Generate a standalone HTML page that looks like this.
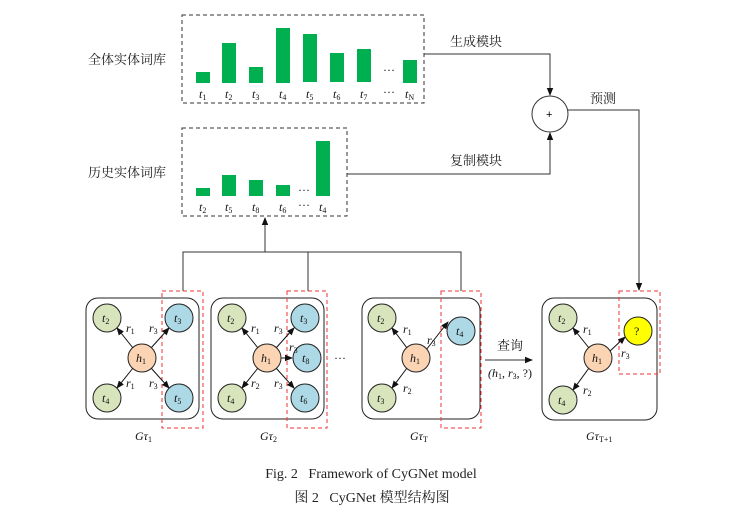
<!DOCTYPE html>
<html><head><meta charset="utf-8"><style>
body{margin:0;background:#fff;}
svg{display:block;}
.cn{font-family:"Liberation Serif","Noto Serif CJK SC",serif;font-size:13px;fill:#222;}
.it{font-family:"Liberation Serif",serif;font-style:italic;font-size:12px;fill:#111;}
.sb{font-style:normal;font-size:8px;}
</style></head><body>
<svg width="736" height="515" viewBox="0 0 736 515" xmlns="http://www.w3.org/2000/svg">
<defs><marker id="a" markerWidth="8" markerHeight="8" refX="7" refY="4" orient="auto" markerUnits="userSpaceOnUse"><path d="M0,0.8 L8,4 L0,7.2 Z" fill="#111"/></marker></defs>
<!-- top box -->
<rect x="182" y="15" width="242" height="88" fill="none" stroke="#333" stroke-dasharray="4,3"/>
<g fill="#00b050">
<rect x="196" y="72" width="14" height="11"/><rect x="222" y="43" width="14" height="40"/><rect x="249" y="67" width="14" height="16"/><rect x="276" y="28" width="14" height="55"/><rect x="303" y="34" width="14" height="48"/><rect x="330" y="53" width="14" height="29"/><rect x="357" y="49" width="14" height="33"/><rect x="403" y="60" width="14" height="23"/>
</g>
<text x="383" y="74" class="it" style="font-style:normal">···</text>
<g class="it">
<text x="199" y="98">t<tspan class="sb" dy="2">1</tspan></text><text x="225" y="98">t<tspan class="sb" dy="2">2</tspan></text><text x="252" y="98">t<tspan class="sb" dy="2">3</tspan></text><text x="279" y="98">t<tspan class="sb" dy="2">4</tspan></text><text x="306" y="98">t<tspan class="sb" dy="2">5</tspan></text><text x="333" y="98">t<tspan class="sb" dy="2">6</tspan></text><text x="360" y="98">t<tspan class="sb" dy="2">7</tspan></text><text x="383" y="96" style="font-style:normal">···</text><text x="405" y="98">t<tspan class="sb" dy="2">N</tspan></text>
</g>
<text x="88" y="64" class="cn">全体实体词库</text>
<!-- history box -->
<rect x="182" y="128" width="165" height="88" fill="none" stroke="#333" stroke-dasharray="4,3"/>
<g fill="#00b050">
<rect x="196" y="188" width="14" height="8"/><rect x="222" y="175" width="14" height="21"/><rect x="249" y="180" width="14" height="16"/><rect x="276" y="185" width="14" height="11"/><rect x="316" y="141" width="14" height="55"/>
</g>
<text x="298" y="194" class="it" style="font-style:normal">···</text>
<g class="it">
<text x="199" y="211">t<tspan class="sb" dy="2">2</tspan></text><text x="225" y="211">t<tspan class="sb" dy="2">5</tspan></text><text x="252" y="211">t<tspan class="sb" dy="2">8</tspan></text><text x="279" y="211">t<tspan class="sb" dy="2">6</tspan></text><text x="298" y="209" style="font-style:normal">···</text><text x="319" y="211">t<tspan class="sb" dy="2">4</tspan></text>
</g>
<text x="88" y="177" class="cn">历史实体词库</text>
<!-- connectors top -->
<g stroke="#333" fill="none" stroke-width="1">
<polyline points="424,54 550,54 550,95" marker-end="url(#a)"/>
<polyline points="347,174 550,174 550,133" marker-end="url(#a)"/>
<polyline points="568,110 639,110 639,290" marker-end="url(#a)"/>
<circle cx="550" cy="114" r="18"/>
<line x1="265" y1="252" x2="265" y2="218" marker-end="url(#a)"/>
<polyline points="183,291 183,252 461,252 461,291"/>
<line x1="308" y1="252" x2="308" y2="291"/>
<line x1="485" y1="360" x2="532" y2="360" marker-end="url(#a)"/>
</g>
<text x="546" y="118" style="font-family:'Liberation Sans';font-size:11px">+</text>
<text x="450" y="46" class="cn">生成模块</text>
<text x="450" y="165" class="cn">复制模块</text>
<text x="590" y="103" class="cn">预测</text>
<text x="497" y="350" class="cn">查询</text>
<text x="488" y="377" class="it">(h<tspan class="sb" dy="2">1</tspan><tspan dy="-2" style="font-style:normal">,</tspan> r<tspan class="sb" dy="2">3</tspan><tspan dy="-2" style="font-style:normal">, ?)</tspan></text>
<!-- panels -->
<g fill="none" stroke="#222">
<rect x="86" y="298" width="113" height="121" rx="12"/>
<rect x="211" y="298" width="113" height="121" rx="12"/>
<rect x="362" y="298" width="118" height="121" rx="12"/>
<rect x="542" y="298" width="115" height="122" rx="12"/>
</g>
<g fill="none" stroke="#ee3333" stroke-dasharray="4,3">
<rect x="162" y="291" width="41" height="137"/>
<rect x="287" y="291" width="40" height="137"/>
<rect x="441" y="291" width="40" height="137"/>
<rect x="619" y="291" width="41" height="83"/>
</g>
<!-- edges -->
<g stroke="#111" marker-end="url(#a)">
<line x1="133" y1="348" x2="117" y2="328"/><line x1="151" y1="348" x2="169" y2="328"/><line x1="133" y1="368" x2="117" y2="388"/><line x1="151" y1="368" x2="169" y2="388"/>
<line x1="258" y1="348" x2="242" y2="328"/><line x1="276" y1="348" x2="294" y2="328"/><line x1="258" y1="368" x2="242" y2="388"/><line x1="276" y1="368" x2="294" y2="388"/><line x1="281" y1="358" x2="292" y2="358"/>
<line x1="407" y1="348" x2="392" y2="328"/><line x1="426" y1="350" x2="448" y2="322"/><line x1="407" y1="368" x2="392" y2="388"/>
<line x1="589" y1="348" x2="573" y2="328"/><line x1="609" y1="352" x2="625" y2="337"/><line x1="589" y1="368" x2="573" y2="390"/>
</g>
<!-- nodes -->
<g stroke="#222">
<g fill="#d8e4bc"><circle cx="107" cy="318" r="14"/><circle cx="107" cy="398" r="14"/><circle cx="232" cy="318" r="14"/><circle cx="232" cy="398" r="14"/><circle cx="382" cy="318" r="14"/><circle cx="382" cy="398" r="14"/><circle cx="563" cy="318" r="14"/><circle cx="563" cy="400" r="14"/></g>
<g fill="#add8e6"><circle cx="179" cy="318" r="14"/><circle cx="179" cy="398" r="14"/><circle cx="305" cy="318" r="14"/><circle cx="307" cy="358" r="14"/><circle cx="305" cy="398" r="14"/><circle cx="461" cy="331" r="14"/></g>
<g fill="#fbd4b4"><circle cx="142" cy="358" r="14"/><circle cx="267" cy="358" r="14"/><circle cx="416" cy="358" r="14"/><circle cx="598" cy="358" r="14"/></g>
<circle cx="638" cy="331" r="14" fill="#ffff00"/>
</g>
<g class="it">
<text x="102" y="322">t<tspan class="sb" dy="2">2</tspan></text><text x="102" y="402">t<tspan class="sb" dy="2">4</tspan></text><text x="174" y="322">t<tspan class="sb" dy="2">3</tspan></text><text x="174" y="402">t<tspan class="sb" dy="2">5</tspan></text><text x="136" y="362">h<tspan class="sb" dy="2">1</tspan></text>
<text x="227" y="322">t<tspan class="sb" dy="2">2</tspan></text><text x="227" y="402">t<tspan class="sb" dy="2">4</tspan></text><text x="300" y="322">t<tspan class="sb" dy="2">3</tspan></text><text x="302" y="362">t<tspan class="sb" dy="2">8</tspan></text><text x="300" y="402">t<tspan class="sb" dy="2">6</tspan></text><text x="261" y="362">h<tspan class="sb" dy="2">1</tspan></text>
<text x="377" y="322">t<tspan class="sb" dy="2">2</tspan></text><text x="377" y="402">t<tspan class="sb" dy="2">3</tspan></text><text x="456" y="335">t<tspan class="sb" dy="2">4</tspan></text><text x="410" y="362">h<tspan class="sb" dy="2">1</tspan></text>
<text x="558" y="322">t<tspan class="sb" dy="2">2</tspan></text><text x="558" y="404">t<tspan class="sb" dy="2">4</tspan></text><text x="634" y="335" style="font-style:normal">?</text><text x="592" y="362">h<tspan class="sb" dy="2">1</tspan></text>
<!-- relation labels -->
<text x="126" y="332">r<tspan class="sb" dy="2">1</tspan></text><text x="149" y="332">r<tspan class="sb" dy="2">3</tspan></text><text x="126" y="387">r<tspan class="sb" dy="2">1</tspan></text><text x="149" y="387">r<tspan class="sb" dy="2">3</tspan></text>
<text x="251" y="332">r<tspan class="sb" dy="2">1</tspan></text><text x="274" y="332">r<tspan class="sb" dy="2">3</tspan></text><text x="289" y="351">r<tspan class="sb" dy="2">3</tspan></text><text x="251" y="387">r<tspan class="sb" dy="2">2</tspan></text><text x="274" y="387">r<tspan class="sb" dy="2">3</tspan></text>
<text x="403" y="333">r<tspan class="sb" dy="2">1</tspan></text><text x="427" y="344">r<tspan class="sb" dy="2">3</tspan></text><text x="403" y="392">r<tspan class="sb" dy="2">2</tspan></text>
<text x="583" y="333">r<tspan class="sb" dy="2">1</tspan></text><text x="621" y="357">r<tspan class="sb" dy="2">3</tspan></text><text x="583" y="394">r<tspan class="sb" dy="2">2</tspan></text>
<!-- panel captions -->
<text x="135" y="440">Gτ<tspan class="sb" dy="2">1</tspan></text><text x="260" y="440">Gτ<tspan class="sb" dy="2">2</tspan></text><text x="410" y="440">Gτ<tspan class="sb" dy="2">T</tspan></text><text x="586" y="440">Gτ<tspan class="sb" dy="2">T+1</tspan></text>
</g>
<text x="334" y="362" class="it" style="font-style:normal">···</text>
<text x="371" y="478" text-anchor="middle" style="font-family:'Liberation Serif',serif;font-size:14px;fill:#222" xml:space="preserve">Fig. 2   Framework of CyGNet model</text>
<text x="372" y="502" text-anchor="middle" style="font-family:'Liberation Serif','Noto Serif CJK SC',serif;font-size:14px;fill:#222" xml:space="preserve">图 2   CyGNet 模型结构图</text>
</svg>
</body></html>
